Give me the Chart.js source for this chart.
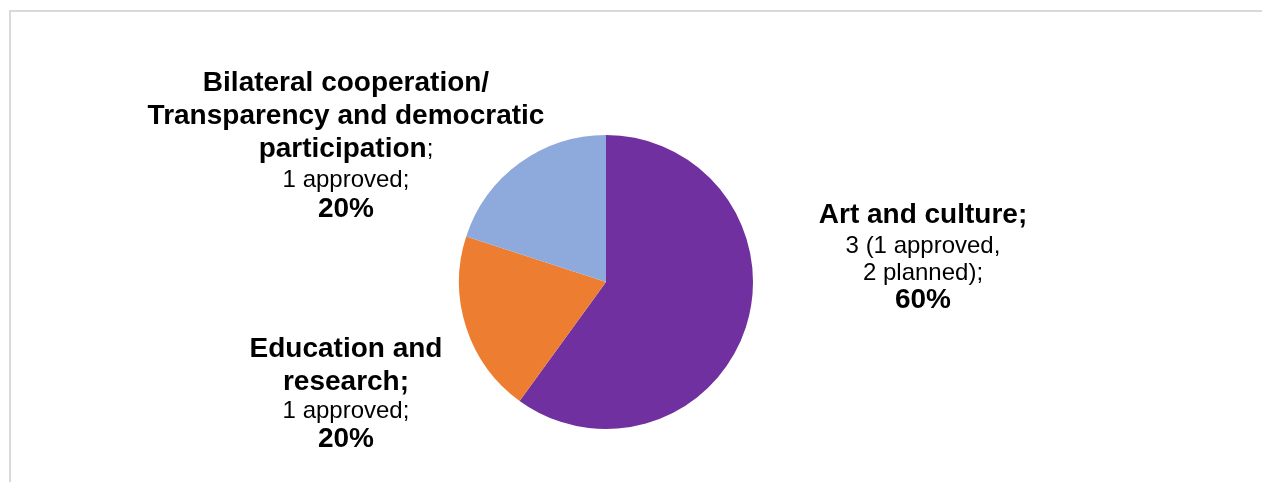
<!DOCTYPE html>
<html>
<head>
<meta charset="utf-8">
<script src="https://cdn.jsdelivr.net/npm/chart.js@4"></script>
<style>
  html, body { margin: 0; padding: 0; background: #fff; }
  body { width: 1262px; height: 482px; overflow: hidden; position: relative; }
  .frame { position: absolute; left: 9px; top: 10px; width: 1300px; height: 600px;
           border-top: 2px solid #d9d9d9; border-left: 2px solid #d9d9d9; }
  #wrap { position: absolute; left: 0; top: 0; width: 1262px; height: 482px; }
</style>
</head>
<body>
<div class="frame"></div>
<div id="wrap"><canvas id="pieChart"></canvas></div>
<script>
const categories = ["Art and culture", "Education and research", "Bilateral cooperation/ Transparency and democratic participation"];
const projectCounts = [3, 1, 1];
const sliceColors = ["#7030A0", "#ED7D31", "#8EA9DB"];

// label text per slice: each line is a list of [text, bold] pieces
const labelLines = [
  [[["Art and culture;", true]], [["3 (1 approved,", false]], [["2 planned);", false]], [["60%", true]]],
  [[["Education and", true]], [["research;", true]], [["1 approved;", false]], [["20%", true]]],
  [[["Bilateral cooperation/", true]], [["Transparency and democratic", true]],
   [["participation", true], [";", false]], [["1 approved;", false]], [["20%", true]]]
];

// where each label block sits (centre x, baseline-middle y of each line)
const labelPlacement = [
  { x: 923, ys: [215, 246, 273, 300] },
  { x: 346, ys: [349, 382, 411, 439] },
  { x: 346, ys: [83, 116, 149, 180, 209] }
];

const FONT = "'Liberation Sans', Arial, sans-serif";

const sliceLabels = {
  id: "sliceLabels",
  afterDraw(chart) {
    const c = chart.ctx;
    c.save();
    c.textBaseline = "middle";
    c.fillStyle = "#000";
    labelLines.forEach((lines, i) => {
      const place = labelPlacement[i];
      lines.forEach((pieces, j) => {
        const fonts = pieces.map(p => (p[1] ? "bold 28px " : "24px ") + FONT);
        let total = 0;
        const widths = pieces.map((p, k) => { c.font = fonts[k]; const w = c.measureText(p[0]).width; total += w; return w; });
        let x = place.x - total / 2;
        pieces.forEach((p, k) => {
          c.font = fonts[k];
          c.textAlign = "left";
          c.fillText(p[0], x, place.ys[j]);
          x += widths[k];
        });
      });
    });
    c.restore();
  }
};

new Chart(document.getElementById("pieChart").getContext("2d"), {
  type: "pie",
  data: {
    labels: categories,
    datasets: [{
      data: projectCounts,
      backgroundColor: sliceColors,
      borderWidth: 0
    }]
  },
  options: {
    responsive: true,
    maintainAspectRatio: false,
    animation: false,
    layout: { padding: { left: 0, right: 50, top: 135, bottom: 53 } },
    plugins: {
      legend: { display: false },
      tooltip: { enabled: false }
    }
  },
  plugins: [sliceLabels]
});
</script>
</body>
</html>
